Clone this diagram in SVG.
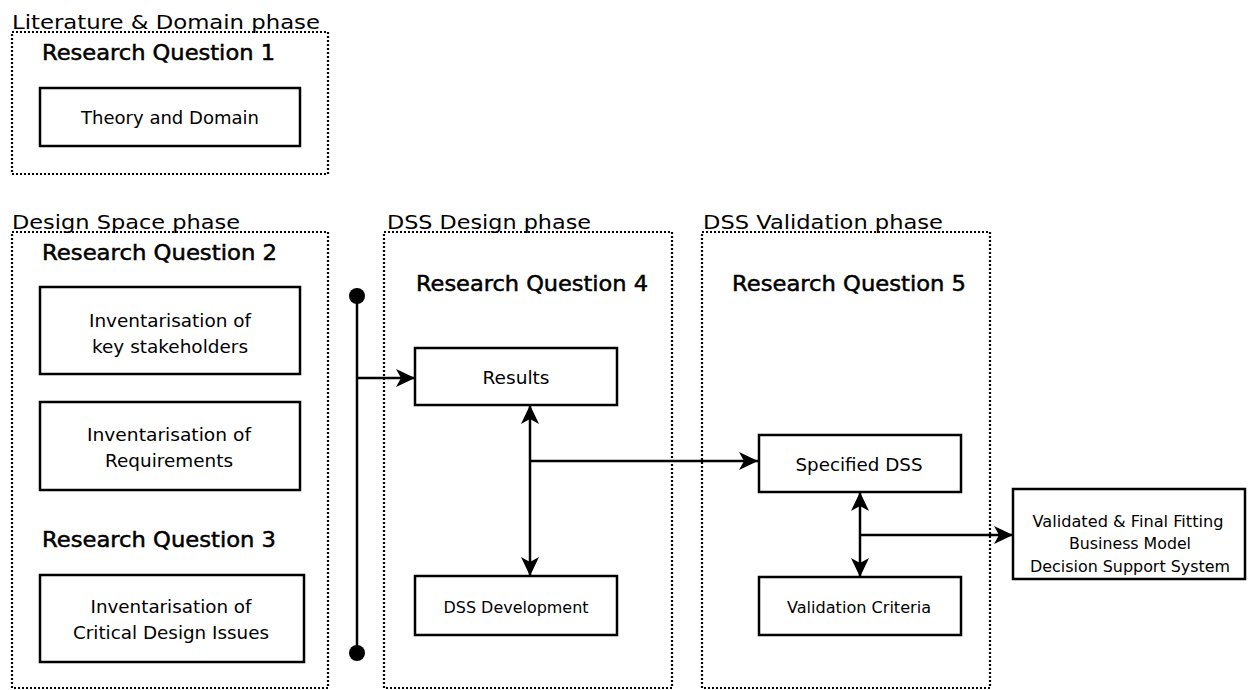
<svg xmlns="http://www.w3.org/2000/svg" width="1248" height="690" viewBox="0 0 1248 690">
<style>
.phase{fill:none;stroke:#000;stroke-width:2.2;stroke-dasharray:2 2}
.box{fill:#fff;stroke:#000;stroke-width:2.5}
.title{font-family:"DejaVu Sans",sans-serif;font-size:20px;fill:#000}
.rq{font-family:"DejaVu Sans",sans-serif;font-size:21px;fill:#000;stroke:#000;stroke-width:0.5}
.t{font-family:"DejaVu Sans",sans-serif;font-size:17px;fill:#000;text-anchor:middle}
.s{font-family:"DejaVu Sans",sans-serif;font-size:16px;fill:#000;text-anchor:middle}
.ln{fill:none;stroke:#000;stroke-width:2.5}
</style>
<defs>
<marker id="ah" markerUnits="userSpaceOnUse" markerWidth="20" markerHeight="19" refX="19" refY="9" orient="auto-start-reverse">
<path d="M0,0 L19,9 L0,18 L5,9 z" fill="#000"/>
</marker>
</defs>
<g id="phase-literature">
<rect class="phase" x="12" y="32" width="316" height="142"/>
<text class="title" x="12" y="29" textLength="308" lengthAdjust="spacingAndGlyphs">Literature &amp; Domain phase</text>
<text class="rq" x="42" y="60" textLength="233" lengthAdjust="spacingAndGlyphs">Research Question 1</text>
</g>
<g id="node-theory">
<rect class="box" x="40" y="88" width="260" height="58"/>
<text class="t" x="170" y="124" textLength="178" lengthAdjust="spacingAndGlyphs">Theory and Domain</text>
</g>
<g id="phase-design-space">
<rect class="phase" x="12" y="232" width="316" height="456"/>
<text class="title" x="12" y="229" textLength="228" lengthAdjust="spacingAndGlyphs">Design Space phase</text>
<text class="rq" x="42" y="260" textLength="235" lengthAdjust="spacingAndGlyphs">Research Question 2</text>
<text class="rq" x="42" y="547" textLength="234" lengthAdjust="spacingAndGlyphs">Research Question 3</text>
</g>
<g id="node-stakeholders">
<rect class="box" x="40" y="287" width="260" height="87"/>
<text class="t" x="170" y="327" textLength="162" lengthAdjust="spacingAndGlyphs">Inventarisation of</text>
<text class="t" x="170" y="353" textLength="156" lengthAdjust="spacingAndGlyphs">key stakeholders</text>
</g>
<g id="node-requirements">
<rect class="box" x="40" y="402" width="260" height="88"/>
<text class="t" x="169" y="441" textLength="164" lengthAdjust="spacingAndGlyphs">Inventarisation of</text>
<text class="t" x="169" y="467" textLength="128" lengthAdjust="spacingAndGlyphs">Requirements</text>
</g>
<g id="node-critical">
<rect class="box" x="40" y="575" width="264" height="87"/>
<text class="t" x="171" y="613" textLength="161" lengthAdjust="spacingAndGlyphs">Inventarisation of</text>
<text class="t" x="171" y="639" textLength="196" lengthAdjust="spacingAndGlyphs">Critical Design Issues</text>
</g>
<g id="phase-dss-design">
<rect class="phase" x="384" y="232" width="288" height="456"/>
<text class="title" x="387" y="229" textLength="204" lengthAdjust="spacingAndGlyphs">DSS Design phase</text>
<text class="rq" x="416" y="291" textLength="232" lengthAdjust="spacingAndGlyphs">Research Question 4</text>
</g>
<g id="node-results">
<rect class="box" x="415" y="348" width="202" height="57"/>
<text class="t" x="516" y="384" textLength="67" lengthAdjust="spacingAndGlyphs">Results</text>
</g>
<g id="node-dss-development">
<rect class="box" x="415" y="576" width="202" height="59"/>
<text class="s" x="516" y="613" textLength="145" lengthAdjust="spacingAndGlyphs">DSS Development</text>
</g>
<g id="phase-dss-validation">
<rect class="phase" x="702" y="232" width="288" height="456"/>
<text class="title" x="703" y="229" textLength="240" lengthAdjust="spacingAndGlyphs">DSS Validation phase</text>
<text class="rq" x="732" y="291" textLength="234" lengthAdjust="spacingAndGlyphs">Research Question 5</text>
</g>
<g id="node-specified-dss">
<rect class="box" x="759" y="435" width="202" height="57"/>
<text class="t" x="859" y="471" textLength="127" lengthAdjust="spacingAndGlyphs">Specified DSS</text>
</g>
<g id="node-validation-criteria">
<rect class="box" x="759" y="577" width="202" height="58"/>
<text class="s" x="859" y="613" textLength="144" lengthAdjust="spacingAndGlyphs">Validation Criteria</text>
</g>
<g id="node-final">
<rect class="box" x="1013" y="489" width="232" height="90"/>
<text class="s" x="1128" y="527" textLength="191" lengthAdjust="spacingAndGlyphs">Validated &amp; Final Fitting</text>
<text class="s" x="1130" y="549" textLength="122" lengthAdjust="spacingAndGlyphs">Business Model</text>
<text class="s" x="1130" y="572" textLength="200" lengthAdjust="spacingAndGlyphs">Decision Support System</text>
</g>
<g id="connectors">
<line class="ln" x1="357" y1="296" x2="357" y2="653"/>
<circle cx="357" cy="296" r="8" fill="#000"/>
<circle cx="357" cy="653" r="8" fill="#000"/>
<line class="ln" x1="357" y1="378" x2="415" y2="378" marker-end="url(#ah)"/>
<line class="ln" x1="530" y1="405" x2="530" y2="576" marker-start="url(#ah)" marker-end="url(#ah)"/>
<line class="ln" x1="530" y1="461" x2="758" y2="461" marker-end="url(#ah)"/>
<line class="ln" x1="860" y1="492" x2="860" y2="577" marker-start="url(#ah)" marker-end="url(#ah)"/>
<line class="ln" x1="860" y1="535" x2="1013" y2="535" marker-end="url(#ah)"/>
</g>
</svg>
